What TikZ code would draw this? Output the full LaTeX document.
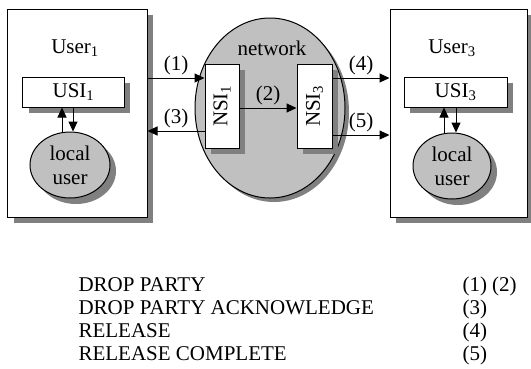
\documentclass[tikz,border=0pt]{standalone}
\usepackage{fontspec}
\setmainfont{Liberation Serif}
\usetikzlibrary{arrows.meta,shapes.geometric}
\definecolor{netgray}{RGB}{192,192,192}
\definecolor{shadegray}{RGB}{128,128,128}

\begin{document}
\begin{tikzpicture}[x=1bp,y=-1bp,line width=1bp,
    every node/.style={font=\fontsize{21bp}{24bp}\selectfont},
    shadowfill/.style={fill=shadegray,inner sep=0pt},
    box/.style={draw,fill=white,inner sep=0pt},
    blob/.style={ellipse,draw,fill=netgray,inner sep=0pt,align=center},
    arr/.style={-{Triangle[length=10bp,width=9bp]}},
    lbl/.style={above=1bp,inner sep=2bp},
    row/.style={anchor=base west,inner sep=0pt}]
    \useasboundingbox (0,0) rectangle (531,368);
    \node[shadowfill,minimum width=139bp,minimum height=208bp] (user1s) at (83.5,119) {};
    \node[box,minimum width=139bp,minimum height=208bp] (user1) at (77.5,113) {};
    \node (user1lbl) at (75,48) {User\textsubscript{1}};
    \node[shadowfill,minimum width=101bp,minimum height=30bp] (usi1s) at (79.5,98) {};
    \node[box,minimum width=101bp,minimum height=30bp] (usi1) at (73.5,92) {USI\textsubscript{1}};
    \node[shadowfill,ellipse,minimum width=80bp,minimum height=66bp] (loc1s) at (76,171) {};
    \node[blob,minimum width=80bp,minimum height=66bp] (loc1) at (70,165) {local\\user};
    \node[shadowfill,ellipse,minimum width=150bp,minimum height=180bp] (nets) at (274,112) {};
    \node[blob,minimum width=150bp,minimum height=180bp] (net) at (270,108) {};
    \node (netlbl) at (272,48) {network};
    \node[shadowfill,minimum width=34bp,minimum height=84bp] (nsi1s) at (228,112) {};
    \node[box,minimum width=34bp,minimum height=84bp] (nsi1) at (222,106) {\rotatebox{90}{NSI\textsubscript{1}}};
    \node[shadowfill,minimum width=35bp,minimum height=84bp] (nsi3s) at (320.5,112) {};
    \node[box,minimum width=35bp,minimum height=84bp] (nsi3) at (314.5,106) {\rotatebox{90}{NSI\textsubscript{3}}};
    \node[shadowfill,minimum width=137bp,minimum height=208bp] (user3s) at (464.5,119) {};
    \node[box,minimum width=137bp,minimum height=208bp] (user3) at (458.5,113) {};
    \node (user3lbl) at (452,48) {User\textsubscript{3}};
    \node[shadowfill,minimum width=103bp,minimum height=30bp] (usi3s) at (461.5,98) {};
    \node[box,minimum width=103bp,minimum height=30bp] (usi3) at (455.5,92) {USI\textsubscript{3}};
    \node[shadowfill,ellipse,minimum width=78bp,minimum height=66bp] (loc3s) at (458,172) {};
    \node[blob,minimum width=78bp,minimum height=66bp] (loc3) at (452,166) {local\\user};
    \draw[arr] (user1.east |- 0,78) -- node[lbl] {(1)} (nsi1.west |- 0,78);
    \draw[arr] (nsi1.west |- 0,131) -- node[lbl] {(3)} (user1.east |- 0,131);
    \draw[arr] (nsi1.east |- 0,108) -- node[lbl] {(2)} (nsi3.west |- 0,108);
    \draw[arr] (nsi3.east |- 0,78) -- node[lbl] {(4)} (user3.west |- 0,78);
    \draw[arr] (nsi3.east |- 0,135) -- node[lbl] {(5)} (user3.west |- 0,135);
    \draw[arr] (loc1.north -| 62,0) -- (usi1.south -| 62,0);
    \draw[arr] (usi1.south -| 73,0) -- (loc1.north -| 73,0);
    \draw[arr] (loc3.north -| 444,0) -- (usi3.south -| 444,0);
    \draw[arr] (usi3.south -| 456,0) -- (loc3.north -| 456,0);
    \node[row] (m1) at (78,291) {DROP PARTY};
    \node[row] (m2) at (78,314) {DROP PARTY ACKNOWLEDGE};
    \node[row] (m3) at (78,337) {RELEASE};
    \node[row] (m4) at (78,360) {RELEASE COMPLETE};
    \node[row] (n1) at (462,291) {(1) (2)};
    \node[row] (n2) at (462,314) {(3)};
    \node[row] (n3) at (462,337) {(4)};
    \node[row] (n4) at (462,360) {(5)};
\end{tikzpicture}
\end{document}
